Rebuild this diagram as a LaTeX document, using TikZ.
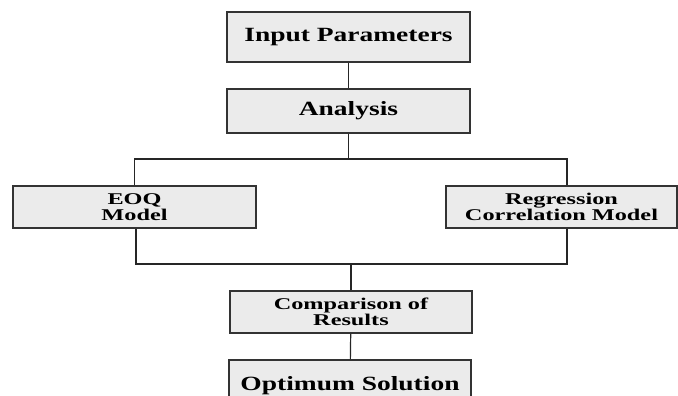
\documentclass[tikz,border=0pt]{standalone}
\usepackage{fontspec}
\setmainfont[FakeStretch=1.36]{Liberation Serif}
\newfontfamily\narrowserif[FakeStretch=1.48]{Liberation Serif}
\usetikzlibrary{calc}
\begin{document}
\begin{tikzpicture}[x=1pt,y=-1pt,
  box/.style={draw=black!80,line width=1.4pt,fill=black!8,inner sep=0pt,align=center,text=black},
  bigbox/.style={box,minimum width=243pt,font=\bfseries\fontsize{20.2}{21}\selectfont},
  smallbox/.style={box,minimum height=42pt,font=\narrowserif\bfseries\fontsize{16.4}{16.2}\selectfont},
  link/.style={draw=black!85,line width=1.2pt}]
\useasboundingbox (0,0) rectangle (678,396);
\begin{scope}
\clip (0,0) rectangle (678,396);
\node[bigbox,minimum height=50pt] (inp) at (348.5,37) {Input Parameters};
\node[bigbox,minimum height=44pt] (ana) at (348.5,111) {Analysis};
\node[smallbox,minimum width=243pt] (eoq) at (134.5,207) {EOQ\\Model};
\node[smallbox,minimum width=231pt] (reg) at (561.5,207) {Regression\\Correlation Model};
\node[smallbox,minimum width=242pt] (cmp) at (351,312) {Comparison of\\Results};
\node[bigbox,minimum width=242pt,minimum height=52pt] (opt) at (350,386) {Optimum Solution};

\coordinate (topbus) at (348.5,159);
\coordinate (botbus) at (351,264);
\coordinate (regtop) at ([xshift=5.5pt]reg.north);
\coordinate (regbot) at ([xshift=5.5pt]reg.south);
\coordinate (eoqbot) at ([xshift=1.5pt]eoq.south);

\path[link] (inp) -- (ana);
\path[link] (ana) -- (topbus);
\path[link] (eoq.north) -- (eoq.north |- topbus) -- (topbus -| regtop) -- (regtop);
\path[link] (eoqbot) -- (eoqbot |- botbus) -- (botbus -| regbot) -- (regbot);
\path[link] (botbus) -- (cmp);
\path[link] (cmp) -- (opt);
\end{scope}
\end{tikzpicture}
\end{document}
